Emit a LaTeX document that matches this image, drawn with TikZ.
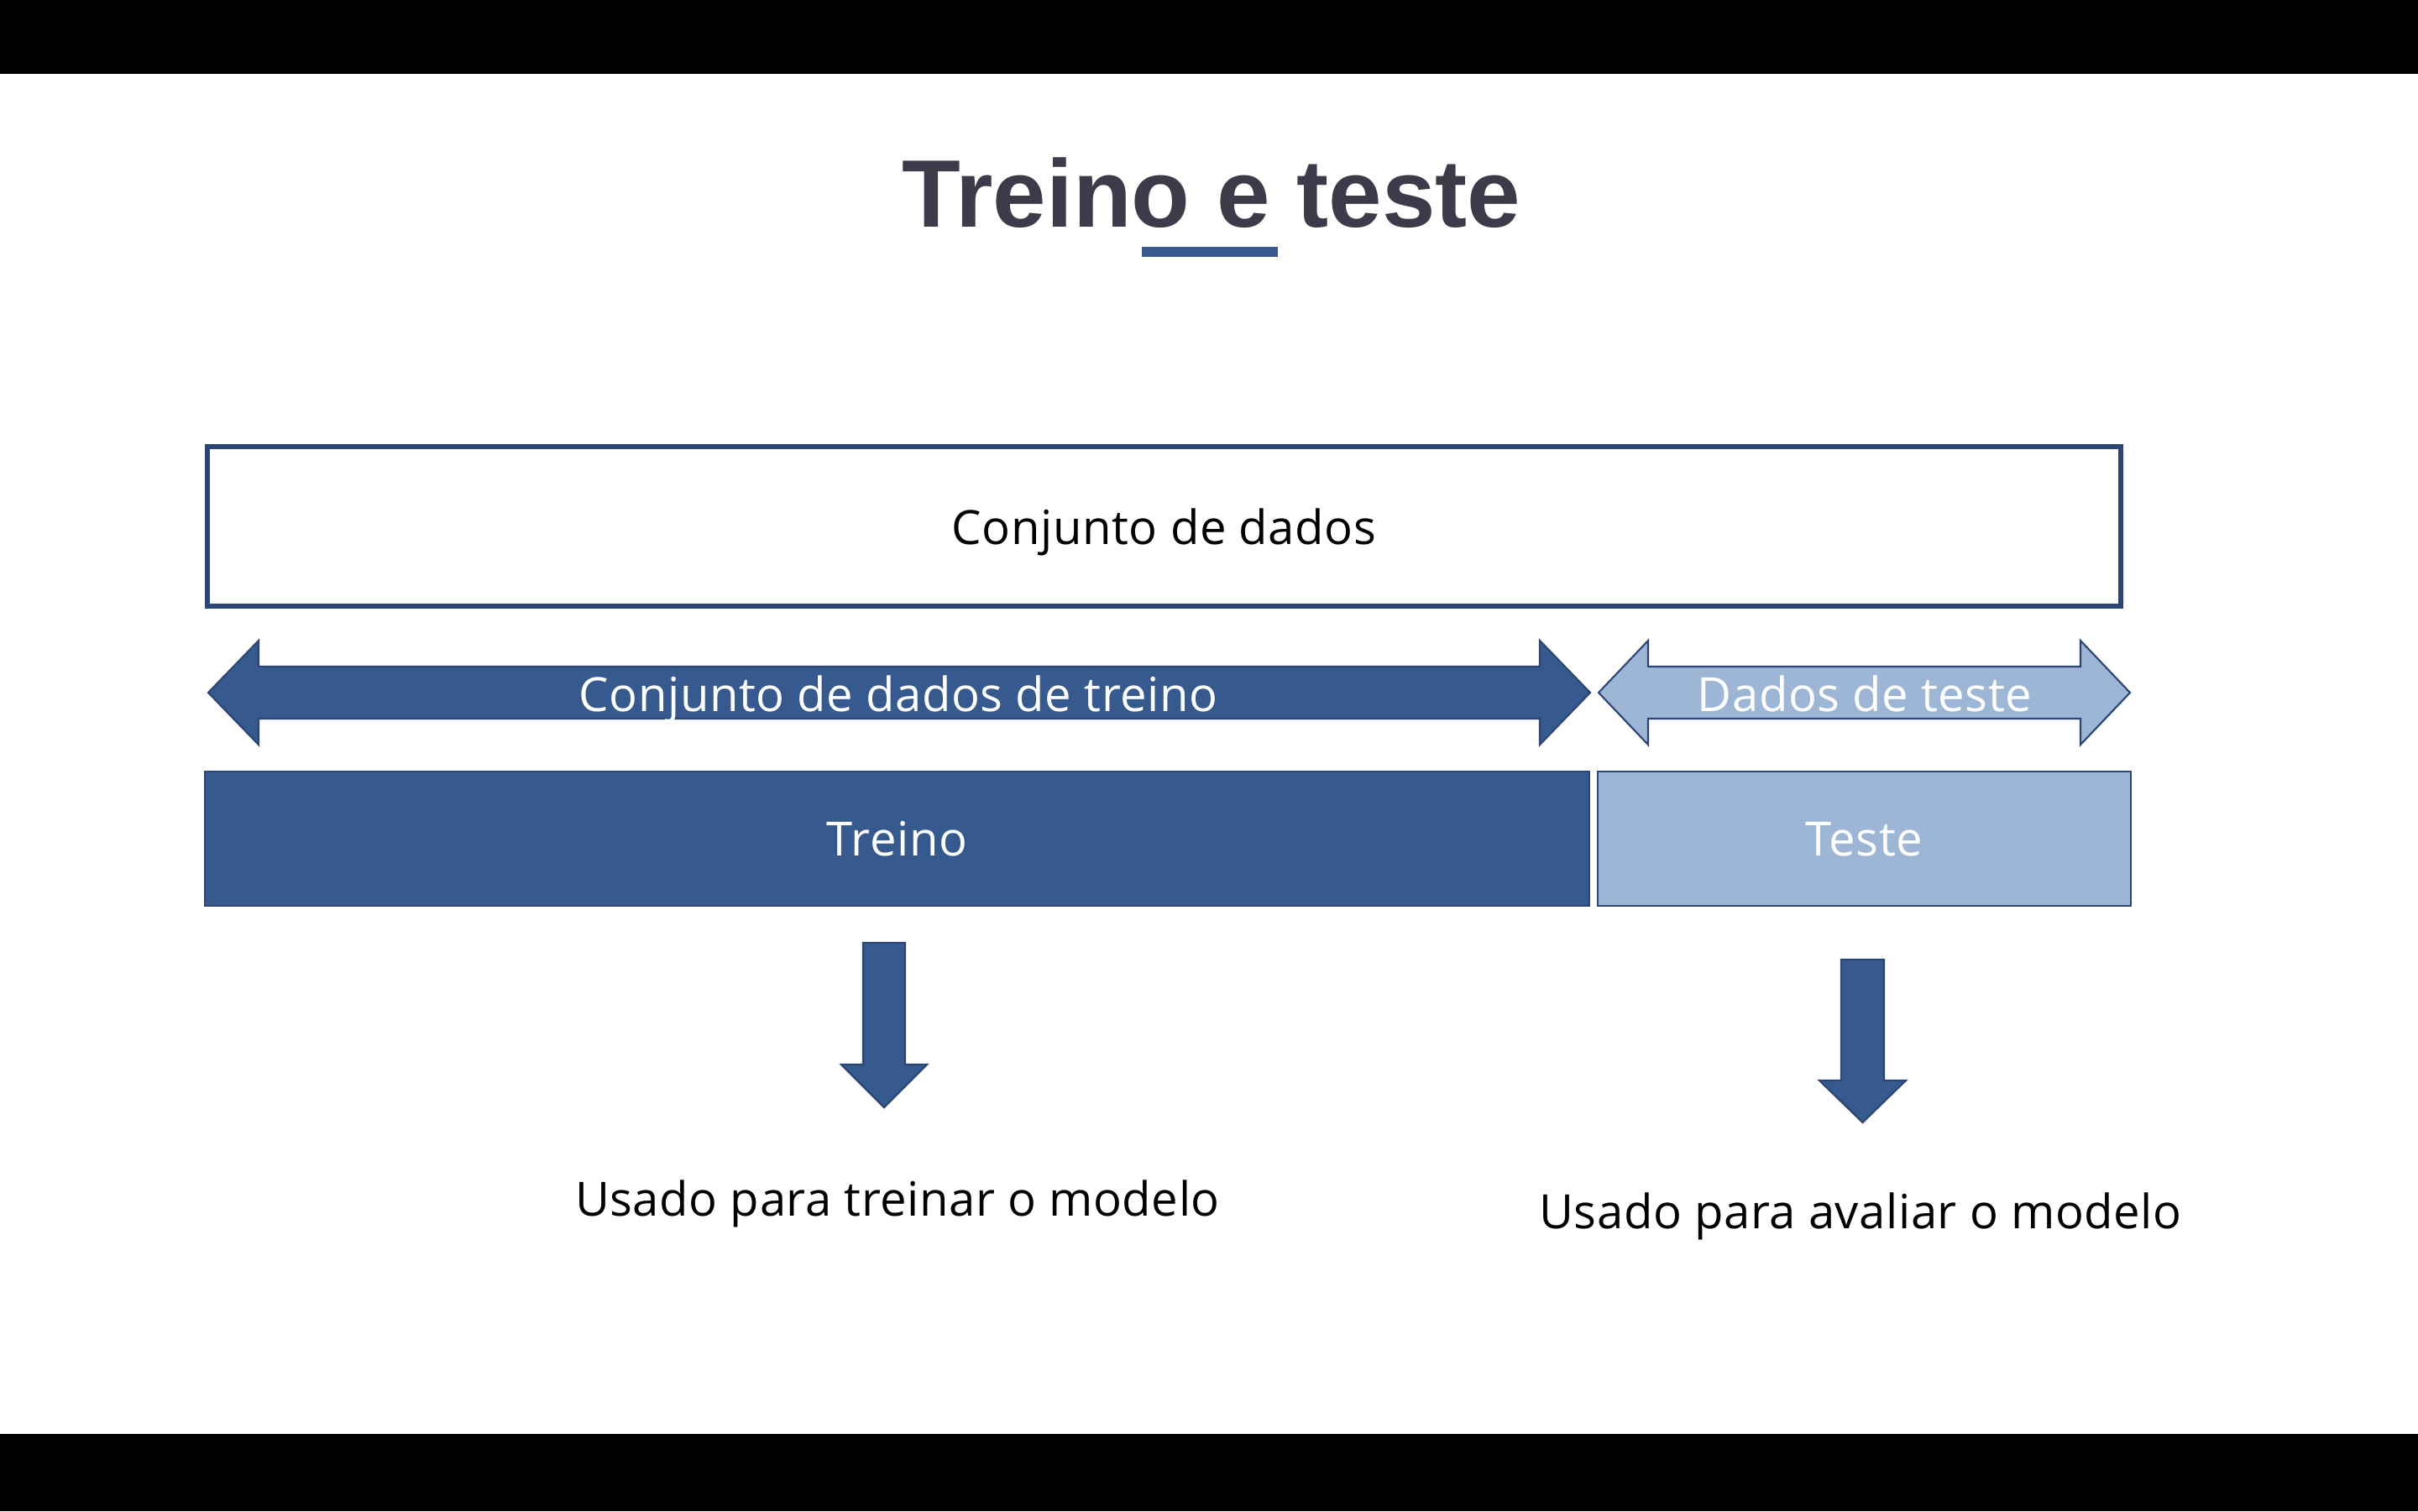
\documentclass[tikz,border=0pt]{standalone}
\usepackage{fontspec}
\setmainfont[LetterSpace=1.0]{Open Sans}
\newfontfamily\titlefont{Liberation Sans}
\usetikzlibrary{positioning}

\definecolor{dataBlue}{HTML}{365A8E}
\definecolor{edgeBlue}{HTML}{2B4674}
\definecolor{testBlue}{HTML}{9DB6D6}
\definecolor{titleGray}{HTML}{3B3B4A}

\begin{document}
\begin{tikzpicture}[x=1cm,y=-1cm,line join=miter]
	\tikzstyle{plainText}=[inner sep=0pt,anchor=base,font=\fontsize{16}{19}\selectfont]
	\tikzstyle{whiteText}=[plainText,text=white]
	\tikzstyle{titleText}=[inner sep=0pt,anchor=base,text=titleGray,font=\titlefont\bfseries\fontsize{32.5}{39}\selectfont]

	\tikzstyle{block}=[rectangle,draw=edgeBlue,line width=0.6pt,inner sep=0pt,text depth=0pt,font=\fontsize{16}{19}\selectfont]
	\tikzstyle{dataBox}=[block,fill=white,line width=1.7pt,minimum width=22.79cm,minimum height=1.90cm]
	\tikzstyle{trainBox}=[block,fill=dataBlue,text=white,minimum width=16.49cm,minimum height=1.60cm]
	\tikzstyle{testBox}=[block,fill=testBlue,text=white,minimum width=6.35cm,minimum height=1.60cm]
	\tikzstyle{blockArrow}=[draw=edgeBlue,line width=0.6pt]

	%slide frame
	\useasboundingbox (0,0) rectangle (28.8,18);
	\fill[white] (0,0) rectangle (28.8,18);
	\fill[black] (0,0) rectangle (28.8,0.88);
	\fill[black] (0,17.08) rectangle (28.8,18);

	%title
	\node[titleText] (title) at (14.43,2.70) {Treino e teste};
	\fill[dataBlue] (13.60,2.94) rectangle (15.22,3.06);

	%whole data set
	\node[dataBox] (dataset) at (13.865,6.27) {Conjunto de dados};

	%split arrows
	\fill[blockArrow,fill=dataBlue] (2.48,8.25) -- (3.08,7.63) -- (3.08,7.94) -- (18.34,7.94) -- (18.34,7.63)
		-- (18.94,8.25) -- (18.34,8.87) -- (18.34,8.56) -- (3.08,8.56) -- (3.08,8.87) -- cycle;
	\node[whiteText] (trainLabel) at (10.70,8.47) {Conjunto de dados de treino};

	\fill[blockArrow,fill=testBlue] (19.04,8.25) -- (19.63,7.63) -- (19.63,7.94) -- (24.78,7.94) -- (24.78,7.63)
		-- (25.37,8.25) -- (24.78,8.87) -- (24.78,8.56) -- (19.63,8.56) -- (19.63,8.87) -- cycle;
	\node[whiteText] (testLabel) at (22.21,8.47) {Dados de teste};

	%split boxes
	\node[trainBox] (train) at (10.685,9.99) {Treino};
	\node[testBox] (test) at (22.205,9.99) {Teste};

	%what each part is for
	\fill[blockArrow,fill=dataBlue] (10.28,11.23) -- (10.78,11.23) -- (10.78,12.68) -- (11.04,12.68)
		-- (10.53,13.19) -- (10.02,12.68) -- (10.28,12.68) -- cycle;
	\node[plainText] (trainUse) at (10.69,14.48) {Usado para treinar o modelo};

	\fill[blockArrow,fill=dataBlue] (21.93,11.43) -- (22.44,11.43) -- (22.44,12.87) -- (22.70,12.87)
		-- (22.185,13.37) -- (21.67,12.87) -- (21.93,12.87) -- cycle;
	\node[plainText] (testUse) at (22.16,14.63) {Usado para avaliar o modelo};

\end{tikzpicture}
\end{document}
